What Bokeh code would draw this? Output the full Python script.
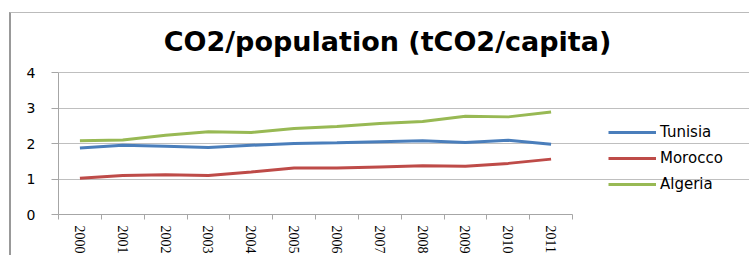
import math
from bokeh.plotting import figure
from bokeh.models import Range1d, FixedTicker, Legend, LegendItem, Label
from bokeh.embed import file_html
from bokeh.resources import INLINE

years = ["2000", "2001", "2002", "2003", "2004", "2005", "2006", "2007", "2008", "2009", "2010", "2011"]
tunisia = [1.87, 1.95, 1.92, 1.89, 1.95, 2.00, 2.02, 2.05, 2.08, 2.03, 2.09, 1.98]
morocco = [1.02, 1.10, 1.12, 1.10, 1.20, 1.31, 1.31, 1.34, 1.37, 1.36, 1.44, 1.56]
algeria = [2.08, 2.10, 2.23, 2.33, 2.31, 2.42, 2.48, 2.56, 2.62, 2.77, 2.75, 2.89]
y_ticks = [0, 1, 2, 3, 4]
y_max = 4
title_text = "CO2/population (tCO2/capita)"

n = len(years)
xs = [i + 0.5 for i in range(n)]

# layout in pixels (figure coordinates)
W, H = 740, 243
border_left, border_bottom = 47, 42
plot_w = 514      # width of the categorical plotting area
plot_h = 142      # height from 0 to y_max
top_pad = 59      # space between figure top and y_max line
title_cx = 329    # title centre, from plot left
title_base = 31   # title baseline, above y_max line

frame_w = W - border_left
x_end = n * frame_w / plot_w
unit = plot_h / y_max
y_end = y_max + top_pad / unit

p = figure(width=W, height=H, output_backend="svg", toolbar_location=None,
           x_range=Range1d(0, x_end), y_range=Range1d(0, y_end),
           min_border_left=border_left, min_border_right=0, min_border_top=0,
           min_border_bottom=border_bottom)
p.styles = {"border-top": "1px solid #BBBBBB", "border-left": "2px solid #999999",
            "margin-left": "9px", "margin-top": "12px"}
p.outline_line_color = None
p.background_fill_color = "white"
p.border_fill_color = "white"

colors = {"Tunisia": "#4A7EBB", "Morocco": "#BE4B48", "Algeria": "#98B954"}
renderers = []
for name, vals in [("Tunisia", tunisia), ("Morocco", morocco), ("Algeria", algeria)]:
    r = p.line(xs, vals, line_color=colors[name], line_width=3)
    renderers.append((name, r))

p.add_layout(Label(x=title_cx * n / plot_w, y=y_max + title_base / unit, text=title_text,
                   text_align="center", text_baseline="alphabetic",
                   text_font="DejaVu Sans", text_font_style="bold", text_font_size="27px",
                   text_color="#000000"))

# x axis
xa = p.xaxis[0]
xa.bounds = (0, n)
xa.ticker = FixedTicker(ticks=xs, minor_ticks=list(range(n + 1)))
xa.major_label_overrides = {x: y for x, y in zip(xs, years)}
xa.major_tick_in = 0
xa.major_tick_out = 0
xa.minor_tick_in = 0
xa.minor_tick_out = 5
xa.minor_tick_line_color = "#A6A6A6"
xa.axis_line_color = "#A6A6A6"
xa.major_label_orientation = -math.pi / 2
xa.major_label_text_font = "Liberation Serif"
xa.major_label_text_font_size = "14px"
xa.major_label_text_color = "#000000"
xa.major_label_standoff = 6

# y axis
ya = p.yaxis[0]
ya.bounds = (0, y_max)
ya.ticker = FixedTicker(ticks=y_ticks)
ya.major_tick_in = 0
ya.major_tick_out = 7
ya.minor_tick_line_color = None
ya.major_tick_line_color = "#A6A6A6"
ya.axis_line_color = "#A6A6A6"
ya.major_label_text_font = "DejaVu Sans"
ya.major_label_text_font_size = "14px"
ya.major_label_text_color = "#000000"
ya.major_label_standoff = 16

p.xgrid.grid_line_color = None
p.ygrid.grid_line_color = "#BFBFBF"
p.ygrid.ticker = FixedTicker(ticks=y_ticks)
p.ygrid.bounds = (0, n)

legend = Legend(items=[LegendItem(label=nm, renderers=[r]) for nm, r in renderers],
                location=(550, 17), orientation="vertical",
                glyph_width=48, glyph_height=26, spacing=0, padding=0, margin=0,
                label_standoff=4, label_text_font="DejaVu Sans", label_text_font_size="15px",
                label_text_color="#000000", border_line_color=None, background_fill_alpha=0)
p.add_layout(legend, "center")

open("out.html", "w").write(file_html(p, INLINE))
